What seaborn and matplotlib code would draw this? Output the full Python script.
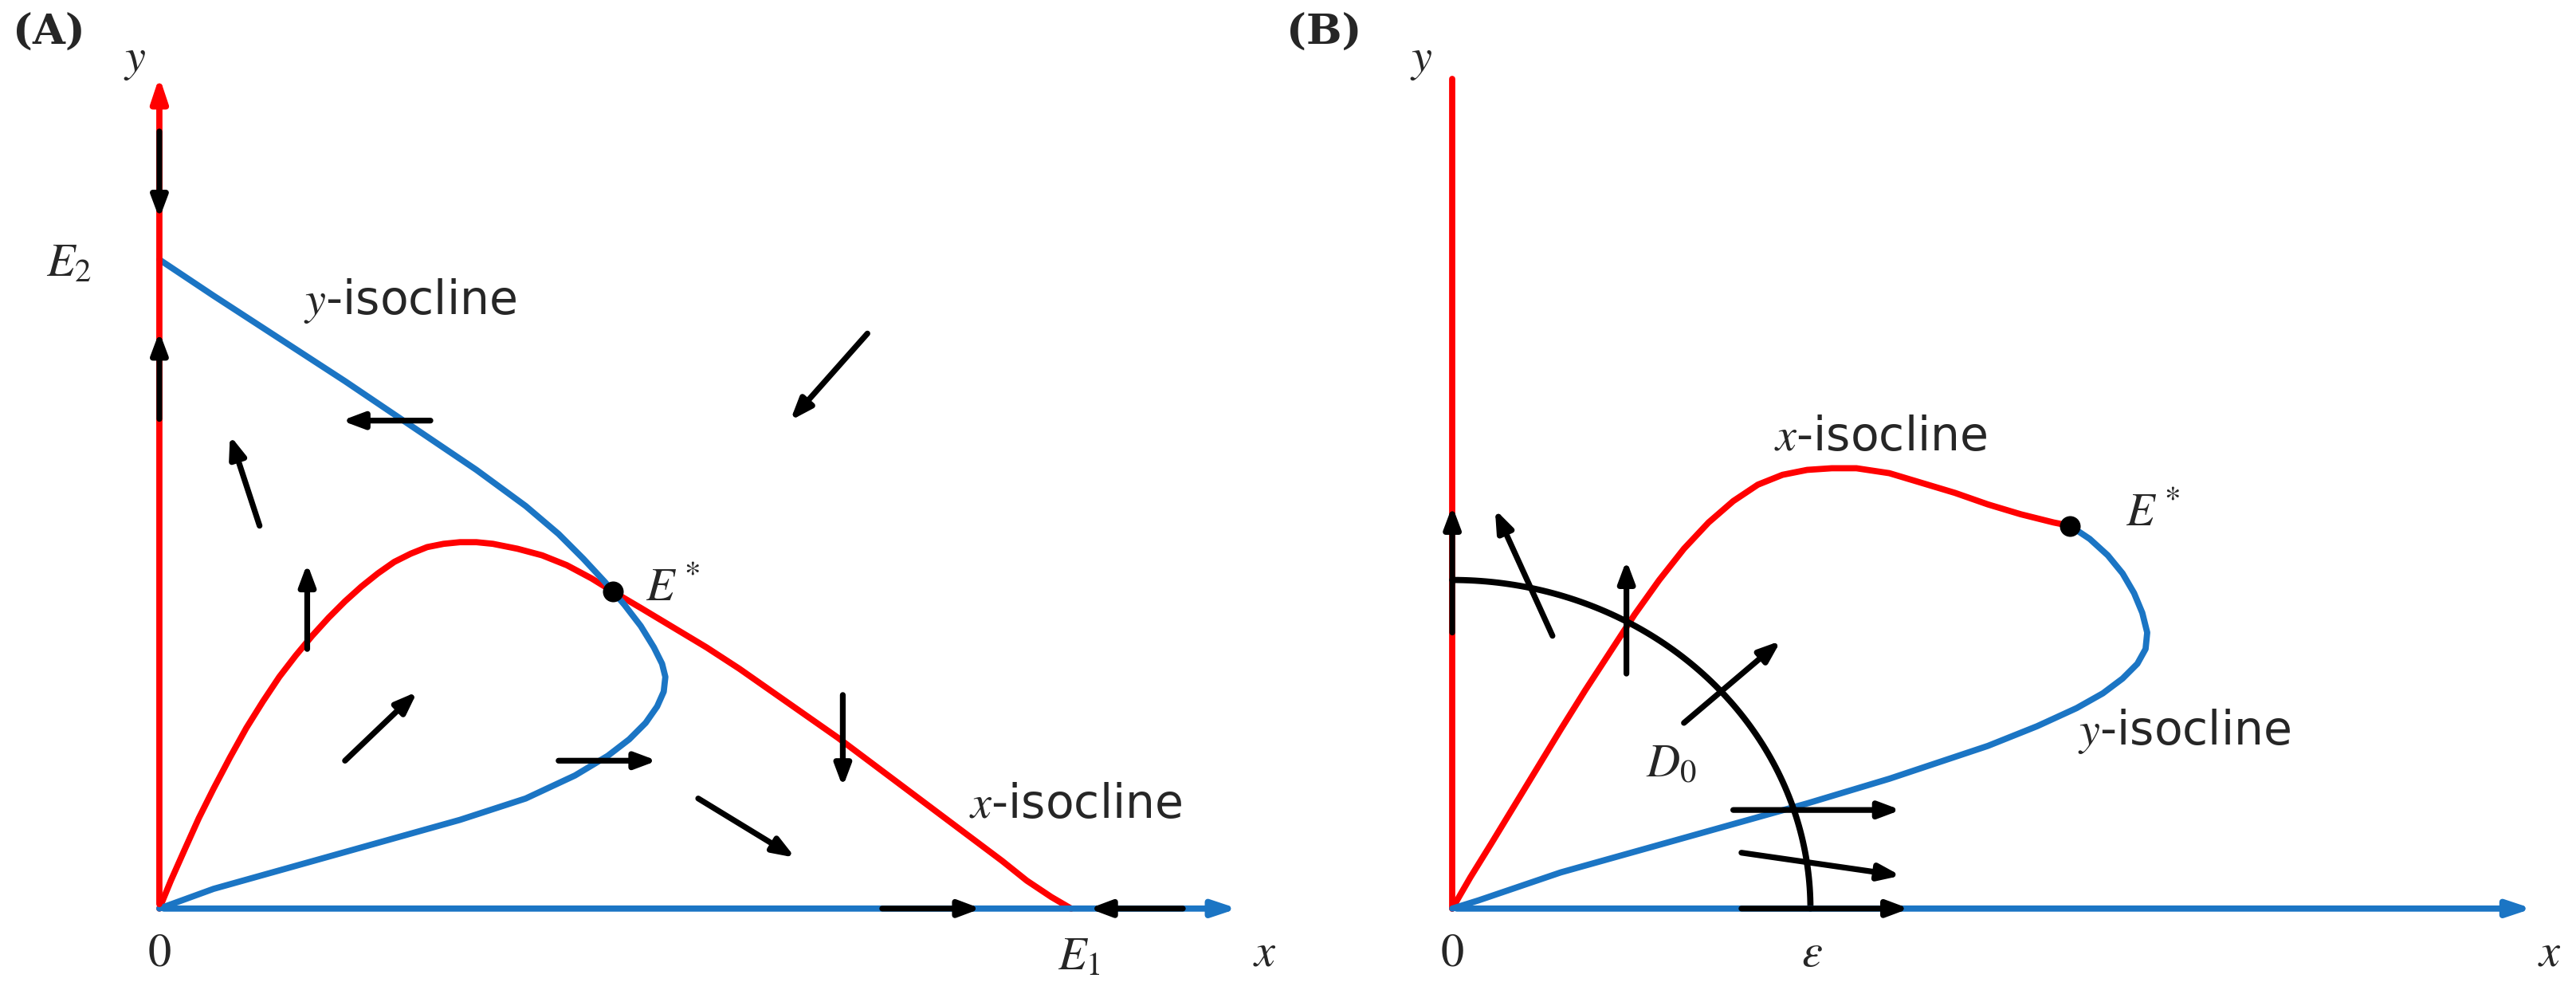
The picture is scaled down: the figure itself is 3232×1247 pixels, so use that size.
import matplotlib
matplotlib.use("Agg")
import matplotlib.pyplot as plt
import seaborn as sns
import numpy as np

sns.set_style("white")
plt.rcParams['font.family'] = ['DejaVu Sans']
plt.rcParams['mathtext.fontset'] = 'stix'

RED = "#FF0000"
BLUE = "#1B75C4"

# Panel A curves (pixel-space coordinates)
a_xiso_x = [97,104,112,121,130,140,150,160,170,180,190,200,210,220,230,240,250,260,270,280,290,300,315,330,345,360,373,390,410,430,450,470,490,510,530,550,570,590,610,625,640,652]
a_xiso_y = [553,536,518,498,480,461,443,427,412,399,387,376,366,357,349,342,337,333,331,330,330,331,334,338,344,352,360,370,382,394,407,421,435,449,464,479,494,509,524,536,546,553]
a_yiso_x = [97,130,170,210,250,290,320,340,355,368,380,390,398,403,405,404,400,393,383,370,350,320,280,230,180,130,97]
a_yiso_y = [158,180,206,232,259,286,308,325,340,354,368,381,394,404,412,421,430,440,450,460,472,486,499,513,527,541,553]
# Panel B curves
b_xiso_x = [884,895,908,922,936,950,965,980,995,1010,1025,1040,1055,1070,1085,1100,1115,1130,1150,1170,1190,1210,1230,1250,1260]
b_xiso_y = [553,534,513,490,467,444,420,397,374,353,334,318,305,295,289,286,285,285,288,294,300,307,313,318,320]
b_yiso_x = [1260,1272,1283,1292,1299,1304,1307,1306,1301,1292,1280,1264,1240,1210,1180,1150,1100,1050,1000,950,900,884]
b_yiso_y = [320,328,338,349,361,373,385,395,404,413,422,431,442,454,464,474,489,503,517,531,548,553]

arrows_A = [((97,80),(97,133)),((97,255),(97,202)),((262,256),(208,256)),((528,203),(481,256)),
            ((158,320),(140,265)),((187,395),(187,343)),((210,463),(254,421)),((340,463),(400,463)),
            ((513,423),(513,479)),((425,486),(484,522)),((537,553),(597,553)),((720,553),(663,553))]
arrows_B = [((884,385),(884,308)),((945,387),(910,310)),((990,410),(990,341)),((1025,440),(1084,390)),
            ((1055,493),(1157,493)),((1060,519),(1157,533)),((1060,553),(1162,553))]

fig = plt.figure(figsize=(16.16, 6.235), dpi=200)
ax = fig.add_axes([0, 0, 1, 1])
ax.set_xlim(0, 1568); ax.set_ylim(605, 0); ax.axis('off')
lw = 2.8
hs = "-|>,head_length=0.9,head_width=0.3"

ax.annotate("", xy=(97, 44), xytext=(97, 553), arrowprops=dict(arrowstyle=hs, color=RED, lw=lw))
ax.annotate("", xy=(756, 553), xytext=(97, 553), arrowprops=dict(arrowstyle=hs, color=BLUE, lw=lw))
ax.plot([884, 884], [553, 48], color=RED, lw=lw)
ax.annotate("", xy=(1544, 553), xytext=(884, 553), arrowprops=dict(arrowstyle=hs, color=BLUE, lw=lw))

for xs, ys, c in [(a_xiso_x, a_xiso_y, RED), (a_yiso_x, a_yiso_y, BLUE), (b_xiso_x, b_xiso_y, RED), (b_yiso_x, b_yiso_y, BLUE)]:
    sns.lineplot(x=xs, y=ys, sort=False, estimator=None, color=c, lw=lw, ax=ax, solid_joinstyle="round")

t = np.linspace(0, np.pi/2, 100)
ax.plot(884 + 218*np.cos(t), 553 - 200*np.sin(t), color="black", lw=lw)

for (s, e) in arrows_A + arrows_B:
    ax.annotate("", xy=e, xytext=s, arrowprops=dict(arrowstyle="-|>,head_length=0.8,head_width=0.3", color="black", lw=2.6, shrinkA=0, shrinkB=0))

ax.scatter([373, 1260], [360, 320], s=70, color="black", zorder=5)

fs = 21
ax.text(8, 20, "(A)", fontsize=19, fontweight="bold", family="DejaVu Serif", va="center")
ax.text(783, 20, "(B)", fontsize=19, fontweight="bold", family="DejaVu Serif", va="center")
for (x, y, s, ha) in [(82, 36, r"$y$", "center"), (865, 36, r"$y$", "center"), (28, 160, r"$E_2$", "left"), (393, 358, r"$E^*$", "left"),
                  (97, 580, r"$0$", "center"), (644, 582, r"$E_1$", "left"), (770, 580, r"$x$", "center"),
                  (1294, 312, r"$E^*$", "left"), (1002, 465, r"$D_0$", "left"), (884, 580, r"$0$", "center"),
                  (1103, 580, r"$\varepsilon$", "center"), (1552, 580, r"$x$", "center")]:
    ax.text(x, y, s, fontsize=fs, ha=ha, va="center")
for (x, y, s) in [(185, 183, r"$y$-isocline"), (590, 490, r"$x$-isocline"), (1080, 266, r"$x$-isocline"), (1265, 445, r"$y$-isocline")]:
    ax.text(x, y, s, fontsize=fs, va="center")

fig.savefig("out.png", dpi=200)
